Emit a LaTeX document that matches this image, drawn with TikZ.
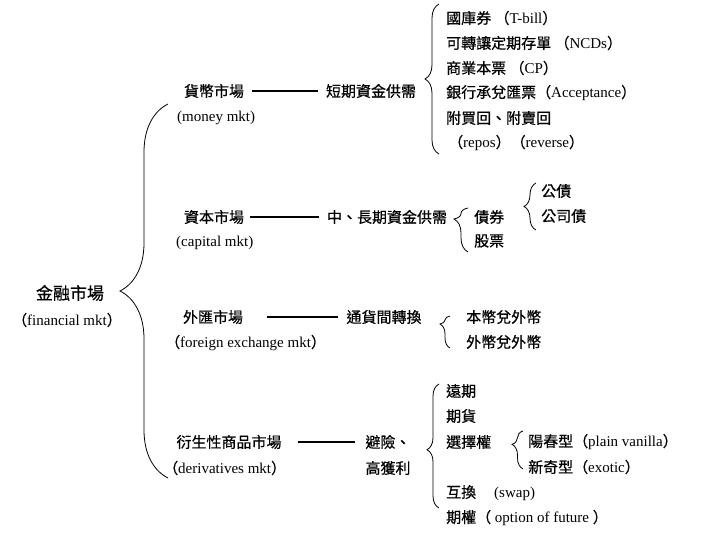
\documentclass[tikz,border=0pt]{standalone}
\usepackage{fontspec}
\setmainfont{Liberation Serif}
\newfontfamily\cjk[FakeBold=0.5]{Noto Sans CJK TC}
\usetikzlibrary{positioning}
\usetikzlibrary{decorations.pathreplacing}
\newcommand{\zh}[1]{{\cjk #1}}

\begin{document}
\begin{tikzpicture}[x=1pt, y=-1pt,
    rotulo/.style={inner xsep=4pt, inner ysep=1pt, font=\fontsize{15}{17}\selectfont},
    item/.style={rotulo, anchor=west, inner xsep=0pt},
    chave/.style 2 args={decorate, decoration={brace, amplitude=#1, aspect=#2}, line width=0.8pt},
    ligacao/.style={line width=1.2pt}]

    \useasboundingbox[fill=white] (0,0) rectangle (720,540);

        % Raiz
        \node[rotulo, font=\fontsize{17}{19}\selectfont] (fin) at (70,293) {\zh{金融市場}};
        \node[rotulo] (finen) at (67,320) {\zh{（}financial mkt\zh{）}};

        % Mercados e funcoes
        \foreach \pos/\name/\texto in {{(214,91)/money/\zh{貨幣市場}}, {(371,91)/short/\zh{短期資金供需}},
                                       {(214,217)/capital/\zh{資本市場}}, {(387,217)/long/\zh{中、長期資金供需}},
                                       {(213,317)/forex/\zh{外匯市場}}, {(384,317)/swapfx/\zh{通貨間轉換}},
                                       {(229,442)/deriv/\zh{衍生性商品市場}}, {(388,442)/hedge/\zh{避險、}},
                                       {(388,468)/profit/\zh{高獲利}}}
            \node[rotulo] (\name) at \pos {\texto};

        % Nomes em ingles
        \foreach \pos/\name/\texto in {{(177,118)/moneyen/(money mkt)}, {(176,243)/capitalen/(capital mkt)},
                                       {(165,343)/forexen/\zh{（}foreign exchange mkt\zh{）}},
                                       {(163,468)/deriven/\zh{（}derivatives mkt\zh{）}}}
            \node[rotulo, anchor=west, inner xsep=0pt] (\name) at \pos {\texto};

        % Ligacoes
        \foreach \source/\target/\a/\b in {money/short/4pt/4pt, capital/long/2pt/4pt,
                                           forex/swapfx/20pt/4pt, deriv/hedge/12pt/6pt}
            \draw[ligacao, shorten <=\a, shorten >=\b] (\source) -- (\target);

        % Itens
        \foreach \pos/\name/\texto in {{(446,18)/tbill/\zh{國庫券 （}T-bill\zh{）}},
                                       {(446,43)/ncd/\zh{可轉讓定期存單 （}NCDs\zh{）}},
                                       {(446,68)/cp/\zh{商業本票 （}CP\zh{）}},
                                       {(446,93)/accept/\zh{銀行承兌匯票（}Acceptance\zh{）}},
                                       {(446,118)/repo/\zh{附買回、附賣回}},
                                       {(448,143)/reverse/\zh{（}repos\zh{）（}reverse\zh{）}},
                                       {(474,217)/bond/\zh{債券}}, {(474,241)/stock/\zh{股票}},
                                       {(541,191)/govbond/\zh{公債}}, {(541,216)/corpbond/\zh{公司債}},
                                       {(466,317)/homefx/\zh{本幣兌外幣}}, {(466,342)/fxfx/\zh{外幣兌外幣}},
                                       {(446,391)/forward/\zh{遠期}}, {(446,416)/future/\zh{期貨}},
                                       {(446,442)/option/\zh{選擇權}},
                                       {(528,442)/vanilla/\zh{陽春型（}plain vanilla\zh{）}},
                                       {(528,467)/exotic/\zh{新奇型（}exotic\zh{）}},
                                       {(446,493)/swap/\zh{互換}\hspace{18pt}(swap)},
                                       {(446,518)/optfut/\zh{期權（} option of future \zh{）}}}
            \node[item] (\name) at \pos {\texto};

        % Chaves
        \coordinate (finT) at (168,104);   \coordinate (finB) at (168,478);
        \coordinate (moneyT) at (439,4);   \coordinate (moneyB) at (439,154);
        \coordinate (bondT) at (468,208);  \coordinate (bondB) at (468,252);
        \coordinate (govT) at (536,183);   \coordinate (govB) at (536,230);
        \coordinate (fxT) at (450,316);    \coordinate (fxB) at (450,348);
        \coordinate (derivT) at (439,384); \coordinate (derivB) at (439,508);
        \coordinate (optT) at (523,431);   \coordinate (optB) at (523,469);

        \foreach \bot/\top/\amp/\asp in {finB/finT/48/0.5, moneyB/moneyT/14/0.5, bondB/bondT/14/0.75,
                                        govB/govT/12/0.5, fxB/fxT/10/0.75, derivB/derivT/12/0.47,
                                        optB/optT/11/0.65}
            \draw[chave={\amp}{\asp}] (\bot) -- (\top);

\end{tikzpicture}
\end{document}
